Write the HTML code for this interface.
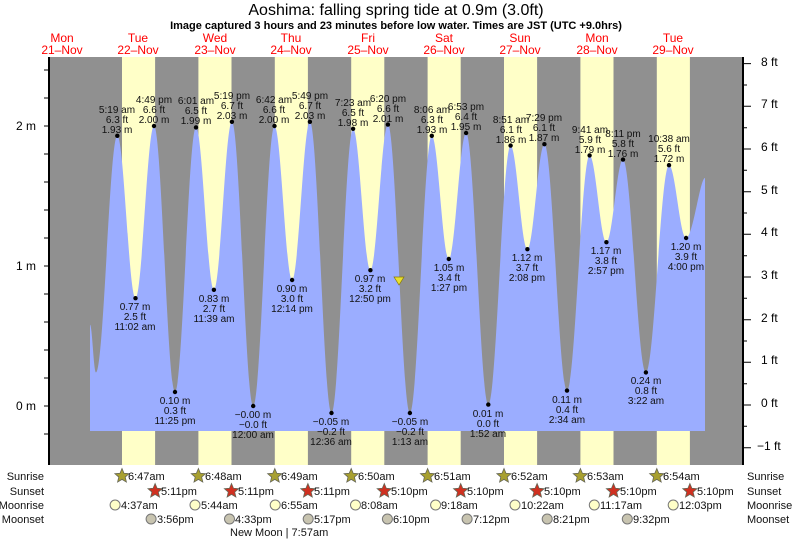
<!DOCTYPE html>
<html><head><meta charset="utf-8"><style>
html,body{margin:0;padding:0;background:#fff;}
svg{display:block;font-family:"Liberation Sans",sans-serif;}
.l text{font-size:10px;fill:#111;text-anchor:middle;}
.d text{font-size:12px;fill:#f00;text-anchor:middle;}
.b text{font-size:11px;fill:#111;}
</style></head><body>
<svg width="793" height="539" viewBox="0 0 793 539" xmlns="http://www.w3.org/2000/svg">
<defs>
<polygon id="st" points="0,-7.5 2,-2.75 7.13,-2.32 3.23,1.05 4.41,6.07 0,3.4 -4.41,6.07 -3.23,1.05 -7.13,-2.32 -2,-2.75" stroke="#665" stroke-width="0.8"/>
</defs>
<text x="396" y="15" font-size="16" text-anchor="middle" fill="#000">Aoshima: falling  spring tide at 0.9m (3.0ft)</text>
<text x="396" y="29" font-size="11" font-weight="bold" text-anchor="middle" fill="#000">Image captured 3 hours and 23 minutes before low water. Times are JST (UTC +9.0hrs)</text>
<g class="d">
<text x="62" y="42">Mon</text><text x="62" y="54">21–Nov</text>
<text x="138" y="42">Tue</text><text x="138" y="54">22–Nov</text>
<text x="215" y="42">Wed</text><text x="215" y="54">23–Nov</text>
<text x="291" y="42">Thu</text><text x="291" y="54">24–Nov</text>
<text x="368" y="42">Fri</text><text x="368" y="54">25–Nov</text>
<text x="444" y="42">Sat</text><text x="444" y="54">26–Nov</text>
<text x="520" y="42">Sun</text><text x="520" y="54">27–Nov</text>
<text x="597" y="42">Mon</text><text x="597" y="54">28–Nov</text>
<text x="673" y="42">Tue</text><text x="673" y="54">29–Nov</text>
</g>
<rect x="49" y="57" width="694" height="408" fill="#909090"/>
<g fill="#ffffc8">
<rect x="122" y="57" width="33.1" height="408"/><rect x="198.4" y="57" width="33.1" height="408"/><rect x="274.8" y="57" width="33.1" height="408"/><rect x="351.2" y="57" width="33.1" height="408"/><rect x="427.6" y="57" width="33.1" height="408"/><rect x="504" y="57" width="33.1" height="408"/><rect x="580.4" y="57" width="33.1" height="408"/><rect x="656.8" y="57" width="33.1" height="408"/>
</g>
<path fill="#9badff" d="M90,431 L90,324.8 C92.2,324.8 93.7,372.4 96,372.4 C103.7,372.4 109.6,135.8 117.3,135.8 C123.9,135.8 128.9,298.2 135.5,298.2 C142.2,298.2 147.3,126 154,126 C161.6,126 167.4,392 175,392 C182.6,392 188.4,127.4 196,127.4 C202.4,127.4 207.5,289.8 213.9,289.8 C220.4,289.8 225.4,121.8 231.9,121.8 C239.6,121.8 245.5,406 253.2,406 C260.9,406 266.8,126 274.5,126 C280.8,126 285.8,280 292.1,280 C298.5,280 303.5,121.8 309.9,121.8 C317.7,121.8 323.7,413 331.5,413 C339.3,413 345.3,128.8 353.1,128.8 C359.3,128.8 364.2,270.2 370.4,270.2 C376.7,270.2 381.6,124.6 387.9,124.6 C395.8,124.6 402,413 409.9,413 C417.8,413 423.9,135.8 431.8,135.8 C437.9,135.8 442.7,259 448.8,259 C455,259 459.9,133 466.1,133 C474.1,133 480.3,404.6 488.3,404.6 C496.3,404.6 502.6,145.6 510.6,145.6 C516.6,145.6 521.4,249.2 527.4,249.2 C533.5,249.2 538.3,144.2 544.4,144.2 C552.5,144.2 558.9,390.6 567,390.6 C575.1,390.6 581.5,155.4 589.6,155.4 C595.6,155.4 600.4,242.2 606.4,242.2 C612.4,242.2 617,159.6 623,159.6 C631.2,159.6 637.7,372.4 645.9,372.4 C654.2,372.4 660.7,165.2 669,165.2 C675.2,165.2 679.9,238 686.1,238 C692.9,238 700,178 705,178 L705,431 Z"/>
<polygon points="394,277 404,277 399,285" fill="#e8e030" stroke="#887700" stroke-width="0.7"/>
<g stroke="#000" stroke-width="1">
<path d="M44,434H49M44,406H49M44,378H49M44,350H49M44,322H49M44,294H49M44,266H49M44,238H49M44,210H49M44,182H49M44,154H49M44,126H49M44,98H49M44,70H49"/>
<path d="M743,447.7H751M743,426.3H747M743,405H751M743,383.7H747M743,362.3H751M743,341H747M743,319.7H751M743,298.3H747M743,277H751M743,255.7H747M743,234.3H751M743,213H747M743,191.7H751M743,170.3H747M743,149H751M743,127.7H747M743,106.3H751M743,85H747M743,63.6H751"/>
</g>
<line x1="49" y1="57" x2="49" y2="465" stroke="#000" stroke-width="2"/>
<line x1="743" y1="57" x2="743" y2="465" stroke="#000" stroke-width="2"/>
<g font-size="12" fill="#000" text-anchor="end">
<text x="36" y="130">2 m</text><text x="36" y="270">1 m</text><text x="36" y="410">0 m</text>
</g>
<g font-size="12" fill="#000">
<text x="761" y="66">8 ft</text><text x="761" y="108">7 ft</text><text x="761" y="151">6 ft</text><text x="761" y="194">5 ft</text><text x="761" y="236">4 ft</text><text x="761" y="279">3 ft</text><text x="761" y="322">2 ft</text><text x="761" y="364">1 ft</text><text x="761" y="407">0 ft</text><text x="757" y="450">−1 ft</text>
</g>
<g fill="#000">
<circle cx="117.3" cy="135.8" r="2.2"/><circle cx="135.5" cy="298.2" r="2.2"/><circle cx="154" cy="126" r="2.2"/><circle cx="175" cy="392" r="2.2"/><circle cx="196" cy="127.4" r="2.2"/><circle cx="213.9" cy="289.8" r="2.2"/><circle cx="231.9" cy="121.8" r="2.2"/><circle cx="253.2" cy="406" r="2.2"/><circle cx="274.5" cy="126" r="2.2"/><circle cx="292.1" cy="280" r="2.2"/><circle cx="309.9" cy="121.8" r="2.2"/><circle cx="331.5" cy="413" r="2.2"/><circle cx="353.1" cy="128.8" r="2.2"/><circle cx="370.4" cy="270.2" r="2.2"/><circle cx="387.9" cy="124.6" r="2.2"/><circle cx="409.9" cy="413" r="2.2"/><circle cx="431.8" cy="135.8" r="2.2"/><circle cx="448.8" cy="259" r="2.2"/><circle cx="466.1" cy="133" r="2.2"/><circle cx="488.3" cy="404.6" r="2.2"/><circle cx="510.6" cy="145.6" r="2.2"/><circle cx="527.4" cy="249.2" r="2.2"/><circle cx="544.4" cy="144.2" r="2.2"/><circle cx="567" cy="390.6" r="2.2"/><circle cx="589.6" cy="155.4" r="2.2"/><circle cx="606.4" cy="242.2" r="2.2"/><circle cx="623" cy="159.6" r="2.2"/><circle cx="645.9" cy="372.4" r="2.2"/><circle cx="669" cy="165.2" r="2.2"/><circle cx="686.1" cy="238" r="2.2"/>
</g>
<g class="l">
<text x="117" y="113">5:19 am</text><text x="117" y="123">6.3 ft</text><text x="117" y="133">1.93 m</text>
<text x="135" y="310">0.77 m</text><text x="135" y="320">2.5 ft</text><text x="135" y="330">11:02 am</text>
<text x="154" y="103">4:49 pm</text><text x="154" y="113">6.6 ft</text><text x="154" y="123">2.00 m</text>
<text x="175" y="404">0.10 m</text><text x="175" y="414">0.3 ft</text><text x="175" y="424">11:25 pm</text>
<text x="196" y="104">6:01 am</text><text x="196" y="114">6.5 ft</text><text x="196" y="124">1.99 m</text>
<text x="214" y="302">0.83 m</text><text x="214" y="312">2.7 ft</text><text x="214" y="322">11:39 am</text>
<text x="232" y="99">5:19 pm</text><text x="232" y="109">6.7 ft</text><text x="232" y="119">2.03 m</text>
<text x="253" y="418">−0.00 m</text><text x="253" y="428">−0.0 ft</text><text x="253" y="438">12:00 am</text>
<text x="274" y="103">6:42 am</text><text x="274" y="113">6.6 ft</text><text x="274" y="123">2.00 m</text>
<text x="292" y="292">0.90 m</text><text x="292" y="302">3.0 ft</text><text x="292" y="312">12:14 pm</text>
<text x="310" y="99">5:49 pm</text><text x="310" y="109">6.7 ft</text><text x="310" y="119">2.03 m</text>
<text x="331" y="425">−0.05 m</text><text x="331" y="435">−0.2 ft</text><text x="331" y="445">12:36 am</text>
<text x="353" y="106">7:23 am</text><text x="353" y="116">6.5 ft</text><text x="353" y="126">1.98 m</text>
<text x="370" y="282">0.97 m</text><text x="370" y="292">3.2 ft</text><text x="370" y="302">12:50 pm</text>
<text x="388" y="102">6:20 pm</text><text x="388" y="112">6.6 ft</text><text x="388" y="122">2.01 m</text>
<text x="410" y="425">−0.05 m</text><text x="410" y="435">−0.2 ft</text><text x="410" y="445">1:13 am</text>
<text x="432" y="113">8:06 am</text><text x="432" y="123">6.3 ft</text><text x="432" y="133">1.93 m</text>
<text x="449" y="271">1.05 m</text><text x="449" y="281">3.4 ft</text><text x="449" y="291">1:27 pm</text>
<text x="466" y="110">6:53 pm</text><text x="466" y="120">6.4 ft</text><text x="466" y="130">1.95 m</text>
<text x="488" y="417">0.01 m</text><text x="488" y="427">0.0 ft</text><text x="488" y="437">1:52 am</text>
<text x="511" y="123">8:51 am</text><text x="511" y="133">6.1 ft</text><text x="511" y="143">1.86 m</text>
<text x="527" y="261">1.12 m</text><text x="527" y="271">3.7 ft</text><text x="527" y="281">2:08 pm</text>
<text x="544" y="121">7:29 pm</text><text x="544" y="131">6.1 ft</text><text x="544" y="141">1.87 m</text>
<text x="567" y="403">0.11 m</text><text x="567" y="413">0.4 ft</text><text x="567" y="423">2:34 am</text>
<text x="590" y="133">9:41 am</text><text x="590" y="143">5.9 ft</text><text x="590" y="153">1.79 m</text>
<text x="606" y="254">1.17 m</text><text x="606" y="264">3.8 ft</text><text x="606" y="274">2:57 pm</text>
<text x="623" y="137">8:11 pm</text><text x="623" y="147">5.8 ft</text><text x="623" y="157">1.76 m</text>
<text x="646" y="384">0.24 m</text><text x="646" y="394">0.8 ft</text><text x="646" y="404">3:22 am</text>
<text x="669" y="142">10:38 am</text><text x="669" y="152">5.6 ft</text><text x="669" y="162">1.72 m</text>
<text x="686" y="250">1.20 m</text><text x="686" y="260">3.9 ft</text><text x="686" y="270">4:00 pm</text>
</g>
<g fill="#a8a030">
<use href="#st" x="122" y="476"/><use href="#st" x="198.4" y="476"/><use href="#st" x="274.8" y="476"/><use href="#st" x="351.2" y="476"/><use href="#st" x="427.6" y="476"/><use href="#st" x="504" y="476"/><use href="#st" x="580.4" y="476"/><use href="#st" x="656.8" y="476"/>
</g>
<g fill="#d03020">
<use href="#st" x="155.1" y="491"/><use href="#st" x="231.5" y="491"/><use href="#st" x="307.9" y="491"/><use href="#st" x="384.3" y="491"/><use href="#st" x="460.7" y="491"/><use href="#st" x="537.1" y="491"/><use href="#st" x="613.5" y="491"/><use href="#st" x="689.9" y="491"/>
</g>
<g fill="#ffffc8" stroke="#777">
<circle cx="115.1" cy="505" r="5"/><circle cx="195" cy="505" r="5"/><circle cx="275.2" cy="505" r="5"/><circle cx="355.5" cy="505" r="5"/><circle cx="435.6" cy="505" r="5"/><circle cx="515" cy="505" r="5"/><circle cx="594.3" cy="505" r="5"/><circle cx="673.2" cy="505" r="5"/>
</g>
<g fill="#c8c4b0" stroke="#777">
<circle cx="151.1" cy="519" r="5"/><circle cx="229.5" cy="519" r="5"/><circle cx="308.2" cy="519" r="5"/><circle cx="387.4" cy="519" r="5"/><circle cx="467.1" cy="519" r="5"/><circle cx="547.2" cy="519" r="5"/><circle cx="627.3" cy="519" r="5"/>
</g>
<g class="b">
<g text-anchor="end"><text x="44" y="480">Sunrise</text><text x="44" y="495">Sunset</text><text x="44" y="509">Moonrise</text><text x="44" y="523">Moonset</text></g>
<text x="747" y="480">Sunrise</text><text x="747" y="495">Sunset</text><text x="747" y="509">Moonrise</text><text x="747" y="523">Moonset</text>
<text x="128" y="480">6:47am</text><text x="205" y="480">6:48am</text><text x="281" y="480">6:49am</text><text x="358" y="480">6:50am</text><text x="434" y="480">6:51am</text><text x="511" y="480">6:52am</text><text x="587" y="480">6:53am</text><text x="663" y="480">6:54am</text>
<text x="161" y="495">5:11pm</text><text x="238" y="495">5:11pm</text><text x="314" y="495">5:11pm</text><text x="391" y="495">5:10pm</text><text x="467" y="495">5:10pm</text><text x="544" y="495">5:10pm</text><text x="620" y="495">5:10pm</text><text x="697" y="495">5:10pm</text>
<text x="121" y="509">4:37am</text><text x="201" y="509">5:44am</text><text x="281" y="509">6:55am</text><text x="361" y="509">8:08am</text><text x="441" y="509">9:18am</text><text x="521" y="509">10:22am</text><text x="600" y="509">11:17am</text><text x="679" y="509">12:03pm</text>
<text x="157" y="523">3:56pm</text><text x="235" y="523">4:33pm</text><text x="314" y="523">5:17pm</text><text x="393" y="523">6:10pm</text><text x="473" y="523">7:12pm</text><text x="553" y="523">8:21pm</text><text x="633" y="523">9:32pm</text>
<text x="230" y="536">New Moon | 7:57am</text>
</g>
</svg>
</body></html>
